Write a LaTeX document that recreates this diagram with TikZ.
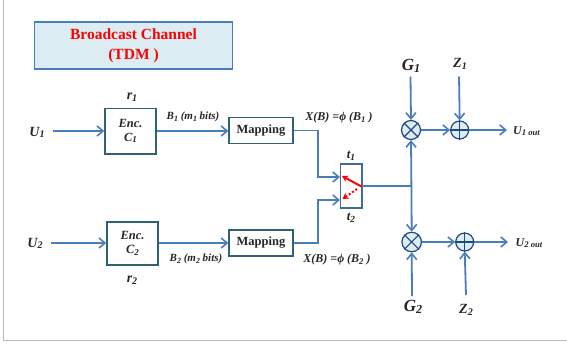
\documentclass[tikz,border=0pt]{standalone}
\usepackage{fontspec}
\setmainfont{Liberation Serif}
\usetikzlibrary{arrows.meta}
\definecolor{flow}{HTML}{4A7EBB}
\definecolor{tealb}{HTML}{2F6273}
\definecolor{lightb}{HTML}{DBECF3}
\definecolor{ring}{HTML}{1F4A7A}
\definecolor{ink}{HTML}{262626}
\newcommand{\lowr}[1]{\raisebox{-0.28ex}{\scalebox{0.72}{#1}}}
\tikzset{
  x=1pt,y=-1pt,
  flowline/.style={draw=flow,line width=1.8pt,-{Straight Barb[length=6pt,width=10pt,line width=1.6pt]}},
  plainflow/.style={draw=flow,line width=1.8pt},
  blockbox/.style={draw=tealb,line width=1.5pt,fill=white,inner sep=0pt,align=center,font=\fontsize{12.5}{14}\selectfont\bfseries\itshape,text=ink},
  mapbox/.style={draw=tealb,line width=1.3pt,fill=white,inner sep=0pt,minimum width=64pt,minimum height=26pt,font=\fontsize{12.5}{14}\selectfont\bfseries,text=ink},
  opcircle/.style={circle,draw=ring,line width=1.2pt,fill=lightb,inner sep=0pt},
  lab/.style={inner sep=0pt,text=ink,font=\fontsize{14}{16}\selectfont\bfseries\itshape},
  smalllab/.style={inner sep=0pt,text=ink,font=\fontsize{11}{13}\selectfont\bfseries\itshape},
  biglab/.style={inner sep=0pt,text=ink,font=\fontsize{17}{19}\selectfont\bfseries\itshape},
}
\begin{document}
\begin{tikzpicture}
\useasboundingbox (0,0) rectangle (567,345);
\fill[white] (0,0) rectangle (567,345);
% slide frame
\draw[draw=black!28,line width=1pt] (3.5,0) -- (3.5,340.5) -- (567,340.5);
% title
\node (title) at (133.5,45.5) [draw=flow,line width=1.5pt,fill=lightb,minimum width=198pt,minimum height=47pt,inner sep=0pt,align=center,text=red,font=\fontsize{15.5}{20}\selectfont\bfseries] {Broadcast Channel\\(TDM )};
% blocks
\node (enc1) at (130.5,131) [blockbox,minimum width=51pt,minimum height=45.5pt] {Enc.\\C\lowr{1}};
\node (enc2) at (132.5,243.5) [blockbox,minimum width=51pt,minimum height=43pt] {Enc.\\C\lowr{2}};
\node (map1) at (261,130.5) [mapbox] {Mapping};
\node (map2) at (261,243) [mapbox] {Mapping};
\node (sw) at (351.2,186) [draw=flow!85!black,line width=1.1pt,fill=white,minimum width=21.5pt,minimum height=44pt,inner sep=0pt] {};
% operators
\node (m1) at (411,130) [opcircle,minimum size=19pt] {};
\node (a1) at (459.7,130) [opcircle,minimum size=18pt] {};
\node (m2) at (411.7,242) [opcircle,minimum size=19.5pt] {};
\node (a2) at (464.7,242) [opcircle,minimum size=18pt] {};
\draw[ring,line width=1.1pt] (m1.north west) -- (m1.south east) (m1.north east) -- (m1.south west);
\draw[ring,line width=1.1pt] (m2.north west) -- (m2.south east) (m2.north east) -- (m2.south west);
\draw[ring,line width=1.1pt] (a1.north) -- (a1.south) (a1.west) -- (a1.east);
\draw[ring,line width=1.1pt] (a2.north) -- (a2.south) (a2.west) -- (a2.east);
% labels
\node (u1) at (37,132.5) [lab] {U\lowr{1}};
\node (u2) at (35,243.5) [lab] {U\lowr{2}};
\node (r1) at (132,97) [lab] {r\lowr{1}};
\node (r2) at (132,280.5) [lab] {r\lowr{2}};
\node (b1) at (193,117) [smalllab] {B\lowr{1} (m\lowr{1} bits)};
\node (b2) at (196,259) [smalllab] {B\lowr{2} (m\lowr{2} bits)};
\node (x1) at (339,118) [smalllab,font=\fontsize{12}{14}\selectfont\bfseries\itshape] {X(B) =ϕ (B\lowr{1} )};
\node (x2) at (337,260) [smalllab,font=\fontsize{12}{14}\selectfont\bfseries\itshape] {X(B) =ϕ (B\lowr{2} )};
\node (t1) at (351,156) [lab,font=\fontsize{13}{15}\selectfont\bfseries\itshape] {t\lowr{1}};
\node (t2) at (351,218) [lab,font=\fontsize{13}{15}\selectfont\bfseries\itshape] {t\lowr{2}};
\node (g1) at (411,65.5) [biglab] {G\lowr{1}};
\node (z1) at (460,64) [lab] {Z\lowr{1}};
\node (g2) at (413,307) [biglab] {G\lowr{2}};
\node (z2) at (466,310) [lab] {Z\lowr{2}};
\node (o1) at (526.5,131) [smalllab,font=\fontsize{12}{14}\selectfont\bfseries\itshape] {U\lowr{1 out}};
\node (o2) at (529,243) [smalllab,font=\fontsize{12}{14}\selectfont\bfseries\itshape] {U\lowr{2 out}};
% free ends
\coordinate (u1e) at (53,131);
\coordinate (u2e) at (51,243);
\coordinate (g1e) at (410.5,76.5);
\coordinate (z1e) at (459,76.5);
\coordinate (g2e) at (412,296);
\coordinate (z2e) at (466,295);
\coordinate (o1e) at (507,130);
\coordinate (o2e) at (508,242);
\coordinate (swin1) at (340,177);
\coordinate (swin2) at (340,200);
\coordinate (swout) at (362,186);
\coordinate (junction) at (411.4,186);
\coordinate (red0) at (361.5,186.5);
\coordinate (red1) at (342,176);
\coordinate (red2) at (357,189);
\coordinate (red3) at (342.5,199);
% connectors
\draw[flowline] (u1e) -- (enc1.west |- u1e);
\draw[flowline] (u2e) -- (enc2.west |- u2e);
\draw[flowline] (enc1.east |- u1e) -- (map1.west |- u1e);
\draw[flowline] (enc2.east |- u2e) -- (map2.west |- u2e);
\draw[flowline] (map1.east) -- ++(24.5,0) |- (swin1);
\draw[flowline] (map2.east) -- ++(24.5,0) |- (swin2);
\draw[plainflow] (swout) -- (junction);
\draw[flowline] (junction) -- (m1.south);
\draw[flowline] (junction) -- (m2.north);
\draw[flowline] (g1e) -- (m1.north);
\draw[flowline] (z1e) -- (a1.north);
\draw[flowline] (g2e) -- (m2.south);
\draw[flowline] (z2e) -- (a2.south);
\draw[flowline] (m1.east) -- (a1.west);
\draw[flowline] (m2.east) -- (a2.west);
\draw[flowline] (a1.east) -- (o1e);
\draw[flowline] (a2.east) -- (o2e);
% switch
\draw[red,line width=2pt,-{Stealth[length=6pt,width=7pt]}] (red0) -- (red1);
\draw[red,line width=2pt,dotted,-{Stealth[length=6pt,width=7pt]}] (red2) -- (red3);
\end{tikzpicture}
\end{document}
